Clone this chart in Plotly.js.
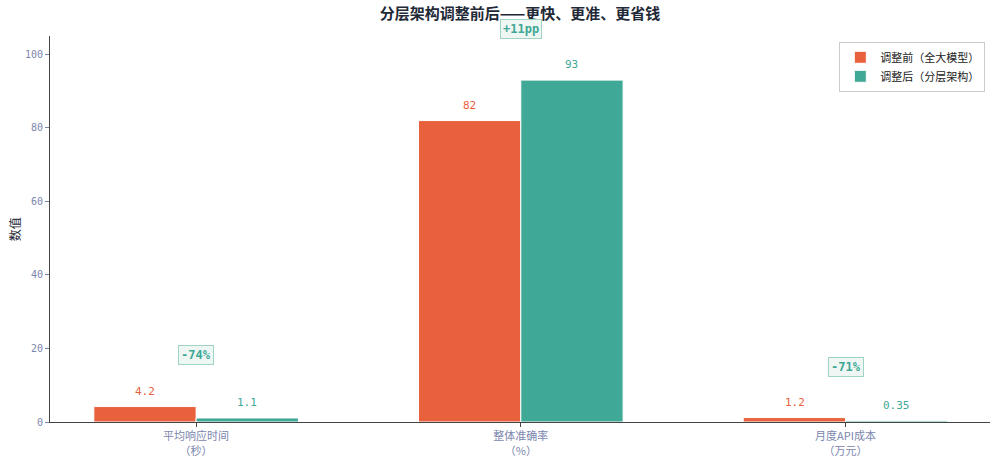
<!DOCTYPE html>
<html>
<head>
<meta charset="utf-8">
<script src="https://cdn.plot.ly/plotly-3.0.1.min.js"></script>
<style>html,body{margin:0;padding:0;background:#fff}</style>
</head>
<body>
<div id="myDiv" style="width:1000px;height:463px;"></div>
<script>
var categories = ['平均响应时间<br>（秒）', '整体准确率<br>（%）', '月度API成本<br>（万元）'];
var before = [4.2, 82, 1.2];
var after = [1.1, 93, 0.35];
var beforeLabels = ['4.2', '82', '1.2'];
var afterLabels = ['1.1', '93', '0.35'];
var changeText = ['-74%', '+11pp', '-71%'];
var changeY = [18.3, 107, 15];

var RED = '#e8603c', GREEN = '#3fa896';
var MONO = 'DejaVu Sans Mono, Noto Sans CJK SC, monospace';
var YMAX = 105;
var xs = categories.map((c, i) => i);

var data = [
	{type: 'bar', name: '调整前（全大模型）', x: xs, y: before,
	 marker: {color: RED, line: {color: '#ffffff', width: 1}}, hoverinfo: 'y'},
	{type: 'bar', name: '调整后（分层架构）', x: xs, y: after,
	 marker: {color: GREEN, line: {color: '#ffffff', width: 1}}, hoverinfo: 'y'}
];

var annotations = [];
// value labels above each bar
xs.forEach(function(i) {
	annotations.push({x: i - 0.157, y: before[i], text: beforeLabels[i], showarrow: false,
		yanchor: 'bottom', yshift: 7, font: {family: MONO, size: 11, color: RED}});
	annotations.push({x: i + 0.157, y: after[i], text: afterLabels[i], showarrow: false,
		yanchor: 'bottom', yshift: 7, font: {family: MONO, size: 11, color: GREEN}});
	// change badge (paper y so the one above the axis still shows)
	annotations.push({x: i, yref: 'paper', y: changeY[i] / YMAX, yanchor: 'middle',
		text: '<b>' + changeText[i] + '</b>', showarrow: false,
		font: {family: MONO, size: 12, color: GREEN},
		bgcolor: '#eef7f4', bordercolor: '#9fd3c6', borderwidth: 1, borderpad: 2});
});
// y axis title
annotations.push({xref: 'paper', yref: 'paper', x: -0.038, y: 0.5, xanchor: 'center', yanchor: 'middle',
	textangle: -90, text: '数值', showarrow: false,
	font: {family: 'Noto Sans CJK SC', size: 12, color: '#1f2937'}});

var layout = {
	width: 1000, height: 463,
	margin: {l: 50, r: 10, t: 36, b: 41},
	paper_bgcolor: '#ffffff', plot_bgcolor: '#ffffff',
	barmode: 'group', bargap: 0.37, bargroupgap: 0,
	title: {text: '<b>分层架构调整前后——更快、更准、更省钱</b>', x: 0.52, xanchor: 'center', y: 0.982,
		font: {family: 'Noto Sans CJK SC', size: 15, color: '#1f2937'}},
	xaxis: {
		tickmode: 'array', tickvals: xs, ticktext: categories,
		range: [-0.45, 2.445], showline: true, linecolor: '#444', linewidth: 1,
		ticks: 'outside', ticklen: 4, tickcolor: '#444', showgrid: false, zeroline: false,
		tickfont: {family: 'Noto Sans CJK SC', size: 11, color: '#7b86ad'}
	},
	yaxis: {
		range: [0, YMAX], tickvals: [0, 20, 40, 60, 80, 100],
		showline: true, linecolor: '#444', linewidth: 1,
		ticks: 'outside', ticklen: 4, tickcolor: '#7b86ad', showgrid: false, zeroline: false,
		tickfont: {family: MONO, size: 10, color: '#7b86ad'}
	},
	legend: {x: 0.995, xanchor: 'right', y: 0.985, yanchor: 'top',
		bgcolor: '#ffffff', bordercolor: '#cccccc', borderwidth: 1, tracegroupgap: 0,
		font: {family: 'Noto Sans CJK SC', size: 11, color: '#222'}},
	annotations: annotations,
	showlegend: true
};

Plotly.newPlot('myDiv', data, layout, {displayModeBar: false});
</script>
</body>
</html>
